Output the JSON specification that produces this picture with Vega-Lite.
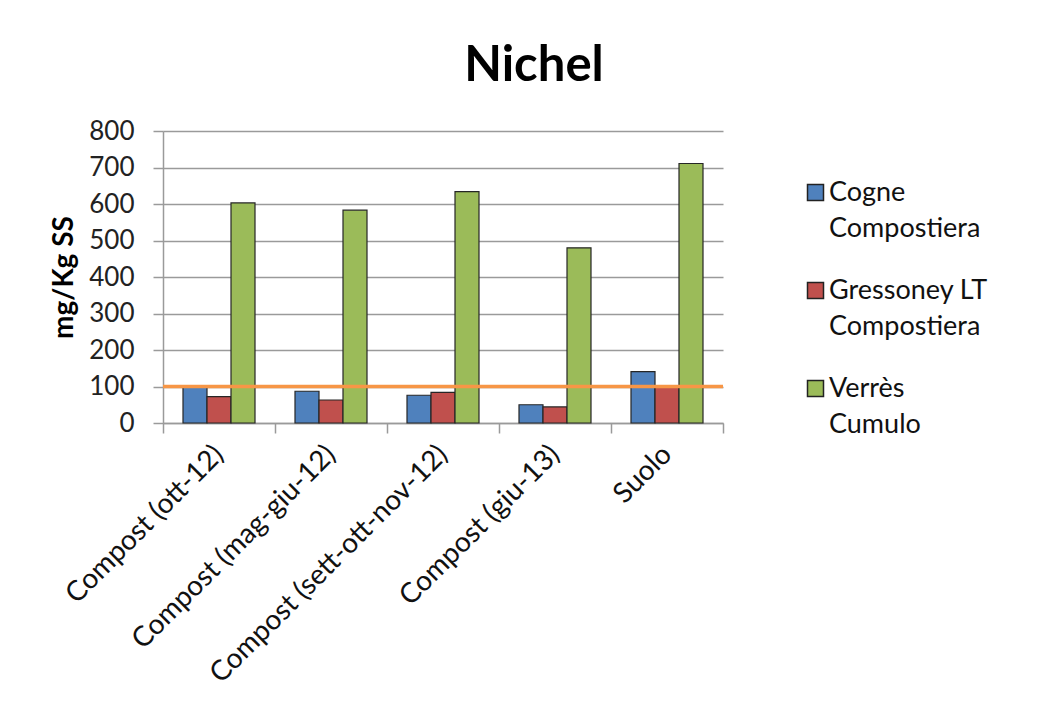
{
  "$schema": "https://vega.github.io/schema/vega-lite/v6.json",
  "width": 560,
  "height": 292,
  "autosize": {"type": "none"},
  "padding": {"left": 163, "top": 131, "right": 328, "bottom": 281},
  "background": "white",
  "title": {
    "text": "Nichel",
    "font": "Lato",
    "fontSize": 49,
    "fontWeight": "bold",
    "color": "#000000",
    "anchor": "middle",
    "frame": "group",
    "dx": 91,
    "offset": 27
  },
  "datasets": {
    "misure": [
      {"campione": "Compost (ott-12)", "sito": "Cogne Compostiera", "valore": 98},
      {"campione": "Compost (ott-12)", "sito": "Gressoney LT Compostiera", "valore": 72},
      {"campione": "Compost (ott-12)", "sito": "Verrès Cumulo", "valore": 603},
      {"campione": "Compost (mag-giu-12)", "sito": "Cogne Compostiera", "valore": 87},
      {"campione": "Compost (mag-giu-12)", "sito": "Gressoney LT Compostiera", "valore": 63},
      {"campione": "Compost (mag-giu-12)", "sito": "Verrès Cumulo", "valore": 583},
      {"campione": "Compost (sett-ott-nov-12)", "sito": "Cogne Compostiera", "valore": 76},
      {"campione": "Compost (sett-ott-nov-12)", "sito": "Gressoney LT Compostiera", "valore": 84},
      {"campione": "Compost (sett-ott-nov-12)", "sito": "Verrès Cumulo", "valore": 634},
      {"campione": "Compost (giu-13)", "sito": "Cogne Compostiera", "valore": 50},
      {"campione": "Compost (giu-13)", "sito": "Gressoney LT Compostiera", "valore": 44},
      {"campione": "Compost (giu-13)", "sito": "Verrès Cumulo", "valore": 480},
      {"campione": "Suolo", "sito": "Cogne Compostiera", "valore": 141},
      {"campione": "Suolo", "sito": "Gressoney LT Compostiera", "valore": 99},
      {"campione": "Suolo", "sito": "Verrès Cumulo", "valore": 711}
    ],
    "limite": [
      {"soglia": 100}
    ]
  },
  "layer": [
    {
      "data": {"name": "misure"},
      "mark": {"type": "bar", "stroke": "#262626", "strokeWidth": 1.2},
      "encoding": {
        "x": {
          "field": "campione",
          "type": "nominal",
          "sort": null,
          "title": null,
          "scale": {"paddingInner": 0, "paddingOuter": 0},
          "axis": {
            "tickBand": "extent",
            "tickSize": 10,
            "tickColor": "#9a9a9a",
            "tickWidth": 1.5,
            "domainColor": "#9a9a9a",
            "domainWidth": 1.5,
            "labelAngle": -45,
            "labelAlign": "right",
            "labelBaseline": "middle",
            "labelPadding": 17,
            "labelFont": "Lato",
            "labelFontSize": 28,
            "labelColor": "#111111",
            "labelLimit": 400,
            "labelOverlap": false,
            "grid": false
          }
        },
        "xOffset": {
          "field": "sito",
          "type": "nominal",
          "sort": null,
          "scale": {"paddingInner": 0, "paddingOuter": 0.833}
        },
        "y": {
          "field": "valore",
          "type": "quantitative",
          "title": "mg/Kg SS",
          "scale": {"domain": [0, 800], "nice": false},
          "axis": {
            "values": [0, 100, 200, 300, 400, 500, 600, 700, 800],
            "tickCount": 12,
            "labelOverlap": false
          }
        },
        "color": {
          "field": "sito",
          "type": "nominal",
          "sort": null,
          "scale": {
            "domain": ["Cogne Compostiera", "Gressoney LT Compostiera", "Verrès Cumulo"],
            "range": ["#4F81BD", "#C0504D", "#9BBB59"]
          },
          "legend": {
            "title": null,
            "orient": "none",
            "legendX": 639,
            "legendY": 48,
            "symbolType": "square",
            "symbolSize": 256,
            "symbolStrokeColor": "#222222",
            "symbolStrokeWidth": 1.5,
            "labelFont": "Lato",
            "labelFontSize": 27,
            "labelColor": "#111111",
            "labelLimit": 300,
            "labelOffset": 0,
            "rowPadding": 34,
            "labelExpr": "datum.label == 'Gressoney LT Compostiera' ? ['Gressoney LT', 'Compostiera'] : split(datum.label, ' ')",
            "encode": {
              "labels": {"update": {"lineHeight": {"value": 36}}}
            }
          }
        }
      }
    },
    {
      "data": {"name": "limite"},
      "mark": {"type": "rule", "color": "#F79646", "strokeWidth": 3.5},
      "encoding": {
        "y": {
          "field": "soglia",
          "type": "quantitative",
          "title": "mg/Kg SS",
          "axis": {
            "values": [0, 100, 200, 300, 400, 500, 600, 700, 800],
            "tickCount": 12,
            "labelOverlap": false
          }
        }
      }
    }
  ],
  "config": {
    "view": {"stroke": null},
    "axisY": {
      "tickSize": 10,
      "tickColor": "#9a9a9a",
      "tickWidth": 1.5,
      "domainColor": "#9a9a9a",
      "domainWidth": 1.5,
      "gridColor": "#9a9a9a",
      "gridWidth": 1.5,
      "labelPadding": 19,
      "labelFont": "Lato",
      "labelFontSize": 26,
      "labelColor": "#222222",
      "titleFont": "Lato",
      "titleFontSize": 28,
      "titleFontWeight": "bold",
      "titleColor": "#000000",
      "titlePadding": 10
    }
  }
}
